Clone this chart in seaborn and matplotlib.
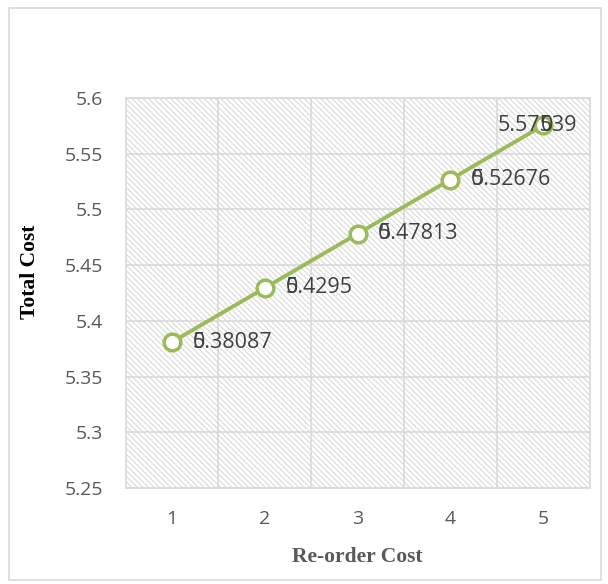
import matplotlib
matplotlib.use("Agg")
import matplotlib.pyplot as plt
from matplotlib.patches import Rectangle
import seaborn as sns
import pandas as pd

# Chart data
reorder_cost = [1, 2, 3, 4, 5]
total_cost = [5.38087, 5.4295, 5.47813, 5.52676, 5.57539]
value_labels = ["5.38087", "5.4295", "5.47813", "5.52676", "5.57539"]
# stray glyph printed over each label: (character index, glyph)
overprint = [(0, "0"), (0, "0"), (0, "0"), (0, "0"), (4, "0")]
y_ticks = [5.25, 5.3, 5.35, 5.4, 5.45, 5.5, 5.55, 5.6]
y_tick_labels = ["5.25", "5.3", "5.35", "5.4", "5.45", "5.5", "5.55", "5.6"]
x_tick_labels = ["1", "2", "3", "4", "5"]

sns.set_theme(style="white")
plt.rcParams["font.family"] = ["Open Sans", "DejaVu Sans"]
plt.rcParams["hatch.linewidth"] = 0.7

GREEN = "#9BBB59"
GRID = "#D9D9D9"
TICK = "#595959"
LABEL = "#404040"
LABEL_SIZE = 15.5

fig = plt.figure(figsize=(6.08, 5.84), dpi=100)
W, H = 608, 584
left, right, top, bottom = 125.5, 589.5, 98, 488
ax = fig.add_axes([left / W, 1 - bottom / H, (right - left) / W, (bottom - top) / H])

# outer chart border
fig.patches.append(Rectangle((8.5 / W, 4 / H), (592 / W), (572 / H), transform=fig.transFigure,
                             fill=False, edgecolor="#D9D9D9", linewidth=1.2))

# hatched plot background
ax.add_patch(Rectangle((0, 0), 1, 1, transform=ax.transAxes, facecolor="white",
                       edgecolor="#D6D6D6", hatch="\\" * 6, linewidth=0, zorder=0))

df = pd.DataFrame({"Re-order Cost": reorder_cost, "Total Cost": total_cost})
sns.lineplot(data=df, x="Re-order Cost", y="Total Cost", ax=ax, color=GREEN, linewidth=2.8,
             marker="o", markersize=12, markerfacecolor="white", markeredgecolor=GREEN,
             markeredgewidth=2.5, zorder=4)

ax.set_xlim(0.5, 5.5)
ax.set_ylim(5.25, 5.6)
ax.set_xticks(reorder_cost)
ax.set_xticklabels(x_tick_labels)
ax.set_yticks(y_ticks)
ax.set_yticklabels(y_tick_labels)
ax.tick_params(axis="both", length=0, labelsize=14, labelcolor=TICK)
ax.tick_params(axis="x", pad=16)
ax.tick_params(axis="y", pad=16)

for y in y_ticks:
    ax.axhline(y, color=GRID, linewidth=1.2, zorder=1)
for x in [1.5, 2.5, 3.5, 4.5]:
    ax.axvline(x, color=GRID, linewidth=1.2, zorder=1)
for s in ax.spines.values():
    s.set_color(GRID)
    s.set_linewidth(1.2)

# data labels
renderer = fig.canvas.get_renderer()
for i, (x, y) in enumerate(zip(reorder_cost, total_cost)):
    label = value_labels[i]
    dx = 15 if i < len(reorder_cost) - 1 else None
    t = ax.annotate(label, (x, y), textcoords="offset points", xytext=(0, 0),
                    ha="left", va="center", fontsize=LABEL_SIZE, color=LABEL, zorder=6)
    if dx is None:
        # last label sits centred over its marker
        width_pt = t.get_window_extent(renderer).width * 72 / fig.dpi
        dx = -width_pt / 2 - 4
    t.set_position((dx, 0))
    idx, glyph = overprint[i]
    shift = 0.0
    if idx > 0:
        probe = ax.annotate(label[:idx], (x, y), textcoords="offset points", xytext=(0, 0),
                            ha="left", va="center", fontsize=LABEL_SIZE)
        shift = probe.get_window_extent(renderer).width * 72 / fig.dpi
        probe.remove()
    ax.annotate(glyph, (x, y), textcoords="offset points", xytext=(dx + shift, 0),
                ha="left", va="center", fontsize=LABEL_SIZE, color=LABEL, zorder=6)

serif = ["Liberation Serif", "DejaVu Serif"]
ax.set_xlabel("Re-order Cost", fontsize=15.5, fontweight="bold", color=TICK, family=serif)
ax.set_ylabel("Total Cost", fontsize=15.5, fontweight="bold", color="black", family=serif)
ax.xaxis.set_label_coords(0.5, (bottom - 557) / (bottom - top))
ax.xaxis.label.set_va("center")
ax.yaxis.set_label_coords((30 - left) / (right - left), (bottom - 272) / (bottom - top))
ax.yaxis.label.set_va("center")

fig.savefig("out.png", dpi=100)
